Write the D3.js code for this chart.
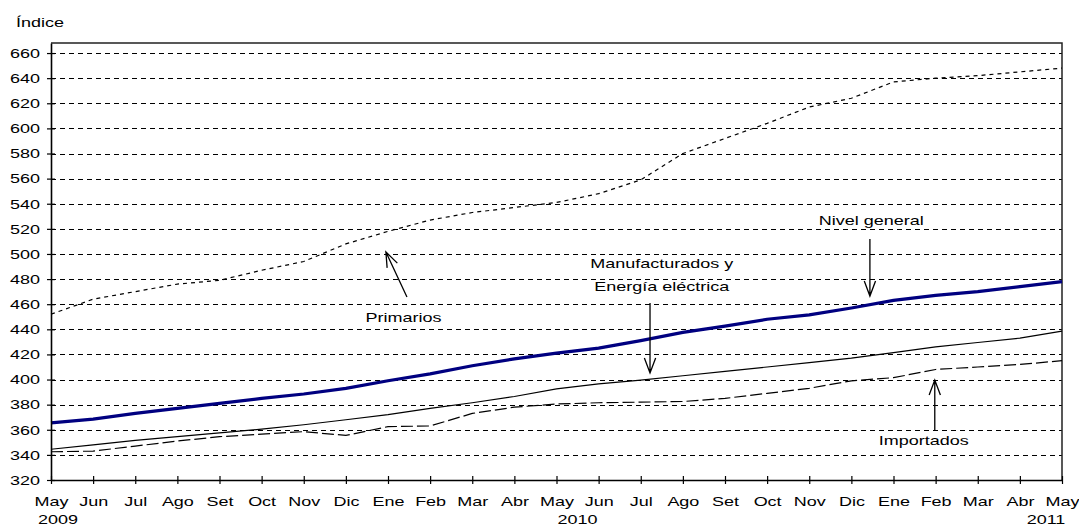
<!DOCTYPE html>
<html><head><meta charset="utf-8">
<script src="https://cdn.jsdelivr.net/npm/d3@7"></script>
<style>
html,body{margin:0;padding:0;background:#fff;}
svg{display:block;font-family:'Liberation Sans',Arial,sans-serif;}
</style></head><body>
<svg id="chart" width="1079" height="526"></svg>
<script>
// ---------- data ----------
const months = ["May","Jun","Jul","Ago","Set","Oct","Nov","Dic","Ene","Feb","Mar","Abr",
                "May","Jun","Jul","Ago","Set","Oct","Nov","Dic","Ene","Feb","Mar","Abr","May"];
const yearLabels = ["2009","2010","2011"];
const yearIndex = [0, 12, 24];
const yTicks = [320,340,360,380,400,420,440,460,480,500,520,540,560,580,600,620,640,660];

const nivelGeneral = [365.5,368.5,373,377,381,385,388.5,393,399,404.5,411,416.5,
                      421,425,431,437.5,442.5,448,451.5,457,463,467,470,474,478];
const manufacturados = [344.5,348,351.5,354.5,357.5,360.5,364,368,372,377,381.5,386.5,
                        392.5,396.5,399.5,403,406.5,410,413.5,417,421.5,426,429.5,433,438.5];
const importados = [342.5,343,347,351,354.5,356.5,358.5,355.5,362.5,363,373,378,
                    380.5,381.5,382,382.5,385,389,393,399,401.5,408,410,412,415];
const primarios = [452,464,470,476,479,487,494,508,518,527,533,537,
                   541,548,559,580,592,604,617,624,637,640,642,645,648];

const axisTitle = "Índice";
const seriesLabels = {
  primarios: ["Primarios"],
  manufacturados: ["Manufacturados y", "Energía eléctrica"],
  nivel: ["Nivel general"],
  importados: ["Importados"]
};

// ---------- layout ----------
const SX = 1.5, FS = 12;
const L = 51, R = 1062, T = 43, B = 480;
const svg = d3.select("#chart");
svg.append("rect").attr("width",1079).attr("height",526).attr("fill","#fff");

const x = d3.scalePoint().domain(months.map((m,i)=>i)).range([L,R]);
const xf = v => x(0) + v * x.step();
const y = d3.scaleLinear().domain([320,668]).range([B,T]);

function stext(g, px, py, str, anchor){
  return g.append("text")
    .attr("transform",`translate(${px},${py}) scale(${SX},1)`)
    .attr("text-anchor",anchor||"middle")
    .attr("font-size",FS).attr("fill","#000").text(str);
}

// gridlines
svg.append("g").attr("transform",`translate(${L},0)`)
  .call(d3.axisLeft(y).tickValues(yTicks.filter(v=>v>320)).tickSize(-(R-L)).tickFormat(""))
  .call(g=>g.select(".domain").remove())
  .selectAll("line").attr("stroke","#000").attr("stroke-width",1)
  .attr("stroke-dasharray","5,4").attr("shape-rendering","crispEdges");

// frame top/right
svg.append("path").attr("d",`M${L},${T}H${R}V${B}`).attr("fill","none")
  .attr("stroke","#222").attr("stroke-width",1.5);

// lines
const line = arr => d3.line().x((d,i)=>x(i)).y(d=>y(d))(arr);
svg.append("path").attr("d",line(manufacturados)).attr("fill","none").attr("stroke","#000").attr("stroke-width",1.2);
svg.append("path").attr("d",line(importados)).attr("fill","none").attr("stroke","#000").attr("stroke-width",1.2).attr("stroke-dasharray","12,4");
svg.append("path").attr("d",line(primarios)).attr("fill","none").attr("stroke","#000").attr("stroke-width",1.2).attr("stroke-dasharray","4,4");
svg.append("path").attr("d",line(nivelGeneral)).attr("fill","none").attr("stroke","#000080").attr("stroke-width",3.2);

// y axis
const gy = svg.append("g").attr("transform",`translate(${L},0)`)
  .call(d3.axisLeft(y).tickValues(yTicks).tickSizeInner(4).tickSizeOuter(0));
gy.select(".domain").attr("stroke","#000").attr("stroke-width",1.6);
gy.selectAll(".tick line").attr("x1",4).attr("stroke","#000").attr("stroke-width",1.2);
gy.selectAll(".tick text").attr("x",-11/SX).attr("dy",null).attr("y",4.3)
  .attr("transform",`scale(${SX},1)`).attr("font-size",FS).attr("font-family",null).attr("fill","#000");

// x axis
const gx = svg.append("g").attr("transform",`translate(0,${B})`)
  .call(d3.axisBottom(x).tickSizeInner(4).tickSizeOuter(0).tickFormat(i=>months[i]));
gx.select(".domain").attr("stroke","#000").attr("stroke-width",1.6);
gx.selectAll(".tick line").attr("y1",-4).attr("stroke","#000").attr("stroke-width",1.2);
gx.selectAll(".tick text").attr("y",26).attr("dy",null).attr("x",0)
  .attr("transform",`scale(${SX},1)`).attr("font-size",FS).attr("font-family",null).attr("fill","#000");

// year labels
const yearOffset = [7, 21, -16];
yearLabels.forEach((lab,k)=>{
  stext(svg, x(yearIndex[k]) + yearOffset[k], 524, lab, "middle");
});

// axis title
stext(svg, 16, 27, axisTitle, "start");

// annotations
function arrow(i1,v1,i2,v2){
  const x1=xf(i1), y1=y(v1), x2=xf(i2), y2=y(v2);
  const a=Math.atan2(y1-y2,x1-x2), len=16, h=0.36;
  const p=`M${x1},${y1}L${x2},${y2}M${x2+len*Math.cos(a-h)},${y2+len*Math.sin(a-h)}L${x2},${y2}L${x2+len*Math.cos(a+h)},${y2+len*Math.sin(a+h)}`;
  svg.append("path").attr("d",p).attr("fill","none").attr("stroke","#000").attr("stroke-width",1.3);
}
stext(svg, xf(8.37), y(445.8), seriesLabels.primarios[0]);
arrow(8.45,465.7,7.95,501.6);

stext(svg, xf(14.5), y(488.8), seriesLabels.manufacturados[0]);
stext(svg, xf(14.5), y(470.5), seriesLabels.manufacturados[1]);
arrow(14.22,461,14.22,405.2);

stext(svg, xf(19.47), y(523.1), seriesLabels.nivel[0]);
arrow(19.44,512,19.44,466.5);

stext(svg, xf(20.72), y(347.9), seriesLabels.importados[0]);
arrow(20.98,359.8,20.98,399.6);
</script>
</body></html>
